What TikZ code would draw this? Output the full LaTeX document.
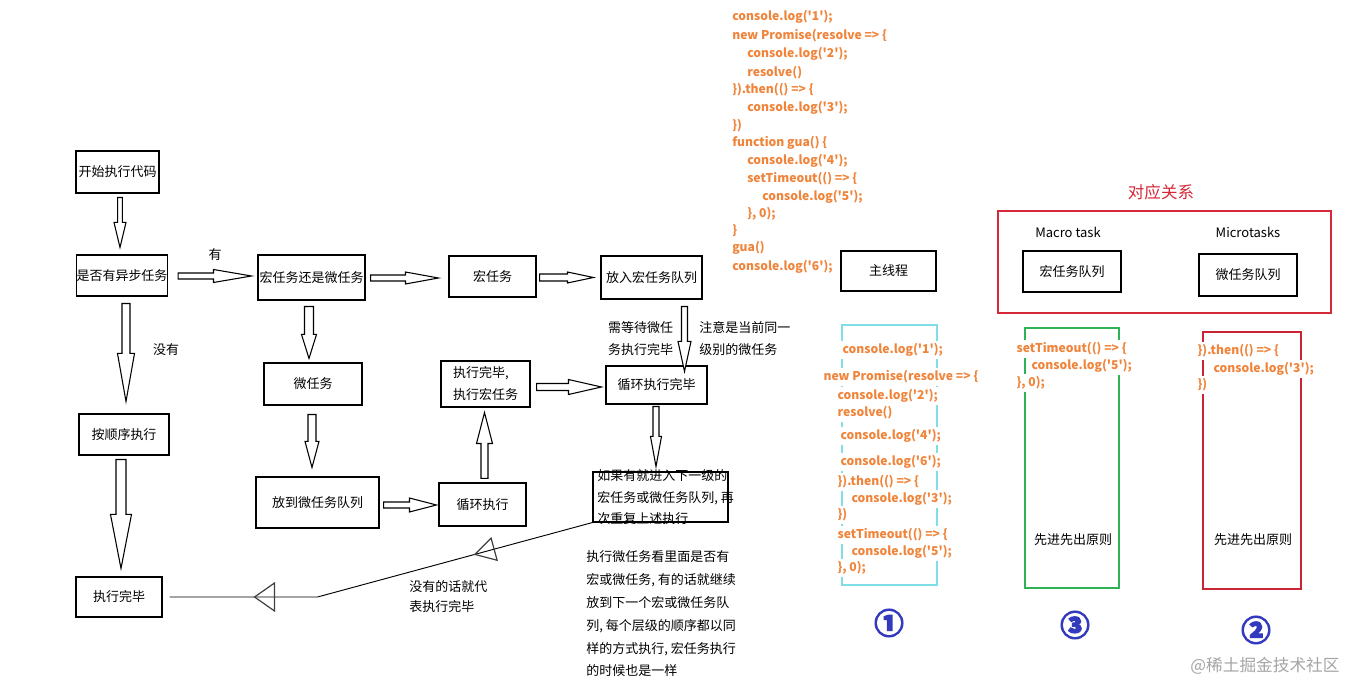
\documentclass[tikz,border=0pt]{standalone}
\usepackage{fontspec}
\newfontfamily\cjk{Noto Sans CJK SC}
\newfontfamily\cjknum[FakeBold=4, BoldFeatures={FakeBold=4}]{Noto Sans CJK SC}
\usetikzlibrary{calc}
\definecolor{codeor}{RGB}{240,132,58}
\definecolor{relred}{RGB}{214,40,56}
\definecolor{qgreen}{RGB}{46,178,84}
\definecolor{qcyan}{RGB}{128,222,230}
\definecolor{qred}{RGB}{200,36,52}
\definecolor{numblue}{RGB}{52,58,190}
\definecolor{wm}{RGB}{165,165,165}
\tikzset{
  bx/.style 2 args={draw, line width=0.8pt, minimum width=#1*0.75pt, minimum height=#2*0.75pt, inner sep=0pt, font=\cjk\fontsize{9.75}{12}\selectfont},
  lbl/.style={font=\cjk\fontsize{9.75}{12}\selectfont, inner sep=0pt},
  blk/.style={draw, line width=0.8pt, fill=white},
  code/.style={font=\cjk\bfseries\fontsize{9.1}{11}\selectfont, text=codeor, inner sep=0pt, anchor=west},
  ccode/.style={code, fill=white, inner xsep=1pt, inner ysep=2pt},
  tri/.style={draw=black!75, line width=0.9pt},
  cbox/.style={line width=0.8pt},
  num/.style={inner sep=0pt, text=numblue, font=\cjknum\bfseries\fontsize{22}{22}\selectfont},
}
\newcommand\blockarr[5]{%
  \coordinate (bh) at ($(#2)!#5*0.75pt!(#1)$);
  \draw[blk] ($(#1)!#3*0.75pt!90:(#2)$) -- ($(bh)!#3*0.75pt!90:(#2)$) -- ($(bh)!#4*0.75pt!90:(#2)$) -- (#2) -- ($(bh)!#4*0.75pt!-90:(#2)$) -- ($(bh)!#3*0.75pt!-90:(#2)$) -- ($(#1)!#3*0.75pt!-90:(#2)$) -- cycle;
}
\begin{document}
\begin{tikzpicture}[x=0.75pt,y=-0.75pt]
\useasboundingbox (0,0) rectangle (1365,698);
\fill[white] (0,0) rectangle (1365,698);

% ---------- flowchart ----------
\node[bx={83}{42}] (A) at (117.5,172) {开始执行代码};
\node[bx={86}{41}] (B) at (122,275.5) {是否有异步任务};
\node[bx={107}{45}] (C) at (311.5,277.5) {宏任务还是微任务};
\node[bx={87}{41}] (L) at (492.5,276.5) {宏任务};
\node[bx={101}{43}] (M) at (651.5,277.5) {放入宏任务队列};
\node[bx={90}{41}] (D) at (124,434.5) {按顺序执行};
\node[bx={86}{40}] (E) at (119,597) {执行完毕};
\node[bx={98}{42}] (G) at (313,384) {微任务};
\node[bx={123}{51}] (H) at (317.5,502.5) {放到微任务队列};
\node[bx={87}{43}] (I) at (482.5,504.5) {循环执行};
\node[bx={89}{46}, align=left, font=\cjk\fontsize{9.75}{16.5}\selectfont] (J) at (485.5,384) {执行完毕,\\执行宏任务};
\node[bx={101}{38}] (K) at (656.5,385) {循环执行完毕};
\node[bx={135}{50}] (F) at (660.5,497) {};
\node[lbl, anchor=west, align=left, font=\cjk\fontsize{9.75}{16.1}\selectfont] (Ft) at (597,497.5) {如果有就进入下一级的\\宏任务或微任务队列, 再\\次重复上述执行};

\node[lbl] (yes) at (215,255) {有};
\node[lbl] (no) at (166,350) {没有};
\node[lbl, align=left, font=\cjk\fontsize{9.75}{16.5}\selectfont] (wait) at (640.5,339) {需等待微任\\务执行完毕};
\node[lbl, anchor=west, align=left, font=\cjk\fontsize{9.75}{16.5}\selectfont] (note) at (699,339) {注意是当前同一\\级别的微任务};
\node[lbl, anchor=west, align=left, font=\cjk\fontsize{9.75}{15}\selectfont] (none) at (409,597) {没有的话就代\\表执行完毕};
\node[lbl, anchor=west, align=left, font=\cjk\fontsize{9.75}{17.1}\selectfont] (para) at (586,614) {执行微任务看里面是否有\\宏或微任务, 有的话就继续\\放到下一个宏或微任务队\\列, 每个层级的顺序都以同\\样的方式执行, 宏任务执行\\的时候也是一样};

% block arrows
\coordinate (s1) at ($(A.south)+(2.5,4)$);   \coordinate (e1) at ($(B.north)+(-2,-7)$);
\coordinate (s2) at ($(B.east)+(10,0.5)$);   \coordinate (e2) at ($(C.west)+(-6,-1.5)$);
\coordinate (s3) at ($(B.south)+(4,7)$);     \coordinate (e3) at ($(D.north)+(2,-12)$);
\coordinate (s4) at ($(D.south)+(-3,4)$);    \coordinate (e4) at ($(E.north)+(2,-8)$);
\coordinate (s5) at ($(C.south)+(-2.5,6)$);  \coordinate (e5) at ($(G.north)+(-4,-4)$);
\coordinate (s6) at ($(G.south)+(-1,9)$);    \coordinate (e6) at ($(H.north)+(-5.5,-9)$);
\coordinate (s7) at ($(H.east)+(4,2.5)$);    \coordinate (e7) at ($(I.west)+(-2,0.5)$);
\coordinate (s8) at ($(I.north)+(2,-4)$);    \coordinate (e8) at ($(J.south)+(-1,5)$);
\coordinate (s9) at ($(J.east)+(6,3)$);      \coordinate (e9) at ($(K.west)+(-4,2)$);
\coordinate (s10) at ($(K.south)+(-0.5,2)$); \coordinate (e10) at ($(F.north)+(-4.5,-5)$);
\coordinate (s11) at ($(C.east)+(5,0.5)$);   \coordinate (e11) at ($(L.west)+(-10,1.5)$);
\coordinate (s12) at ($(L.east)+(3,1)$);     \coordinate (e12) at ($(M.west)+(-7,0)$);
\coordinate (s13) at ($(M.south)+(33,7)$);   \coordinate (e13) at ($(K.north)+(28,6)$);
\blockarr{s1}{e1}{2.4}{6}{25}
\blockarr{s2}{e2}{3}{6.5}{38}
\blockarr{s3}{e3}{4}{8.5}{48}
\blockarr{s4}{e4}{5}{10.5}{54}
\blockarr{s5}{e5}{4.5}{7.5}{24}
\blockarr{s6}{e6}{4}{7}{26}
\blockarr{s7}{e7}{3}{7}{27}
\blockarr{s8}{e8}{3.5}{8}{31}
\blockarr{s9}{e9}{3.5}{7.5}{33}
\blockarr{s10}{e10}{3}{5.5}{30}
\blockarr{s11}{e11}{3}{6}{33}
\blockarr{s12}{e12}{3.5}{5.5}{26}
\blockarr{s13}{e13}{3}{6.5}{30}

% return line F -> E
\coordinate (bend) at ($(E.east)+(155,0)$);
\coordinate (eend) at ($(E.east)+(7,0)$);
\draw[line width=0.7pt] (F.south west) -- (bend) -- (eend);
\coordinate (tA) at ($(E.east)+(92,0)$);
\draw[tri] (tA) -- ++(20,-14) -- ++(0,28) -- cycle;
\coordinate (tB) at ($(bend)!0.572!(F.south west)$);
\coordinate (tBb) at ($(tB)!15pt!(F.south west)$);
\draw[tri] (tB) -- ($(tBb)!8.6pt!90:(F.south west)$) -- ($(tBb)!8.6pt!-90:(F.south west)$) -- cycle;

% ---------- code ----------
\node[code] (t1) at (732,17.3) {console.log('1');};
\node[code] (t2) at (732,35.7) {new Promise(resolve => \{};
\node[code] (t3) at (747,54) {console.log('2');};
\node[code] (t4) at (747,72.3) {resolve()};
\node[code] (t5) at (732,90) {\}).then(() => \{};
\node[code] (t6) at (747,108.3) {console.log('3');};
\node[code] (t7) at (732,125.5) {\})};
\node[code] (t8) at (732,143.3) {function gua() \{};
\node[code] (t9) at (747,161) {console.log('4');};
\node[code] (t10) at (747,179) {setTimeout(() => \{};
\node[code] (t11) at (762,196.5) {console.log('5');};
\node[code] (t12) at (747,213.5) {\}, 0);};
\node[code] (t13) at (732,231) {\}};
\node[code] (t14) at (732,248.3) {gua()};
\node[code] (t15) at (732,266.7) {console.log('6');};

\node[bx={95}{40}] (MT) at (888.5,271) {主线程};

% ---------- correspondence ----------
\draw[relred, cbox] (998,211) rectangle (1331,313);
\node[lbl, text=relred, font=\cjk\fontsize{12.4}{14}\selectfont] (rel) at (1161,192) {对应关系};
\node[lbl] (mac) at (1068,232) {Macro task};
\node[lbl] (mic) at (1248,232) {Microtasks};
\node[bx={98}{41}] (Q1) at (1072,271.5) {宏任务队列};
\node[bx={98}{42}] (Q2) at (1248,275) {微任务队列};

% ---------- columns ----------
\draw[qcyan, cbox] (842,325) rectangle (937,585);
\draw[qgreen, cbox] (1025,328) rectangle (1119,588);
\draw[qred, cbox] (1203,332) rectangle (1301,589);

\node[ccode] (u1) at (841,350) {console.log('1');};
\node[ccode] (u2) at (822,377) {new Promise(resolve => \{};
\node[ccode] (u3) at (836,396) {console.log('2');};
\node[ccode] (u4) at (836,413) {resolve()};
\node[ccode] (u5) at (839,436) {console.log('4');};
\node[ccode] (u6) at (839,462) {console.log('6');};
\node[ccode] (u7) at (836,482) {\}).then(() => \{};
\node[ccode] (u8) at (850,499) {console.log('3');};
\node[ccode] (u9) at (836,515) {\})};
\node[ccode] (u10) at (836,535) {setTimeout(() => \{};
\node[ccode] (u11) at (850,552) {console.log('5');};
\node[ccode] (u12) at (836,568) {\}, 0);};

\node[ccode] (v1) at (1015,349) {setTimeout(() => \{};
\node[ccode] (v2) at (1030,366) {console.log('5');};
\node[ccode] (v3) at (1015,383) {\}, 0);};

\node[ccode] (w1) at (1196,351) {\}).then(() => \{};
\node[ccode] (w2) at (1212,369) {console.log('3');};
\node[ccode] (w3) at (1196,385) {\})};

\node[lbl] (fifo1) at (1073,540) {先进先出原则};
\node[lbl] (fifo2) at (1253,540) {先进先出原则};

\node[num] (n1) at (889,623) {①};
\node[num] (n3) at (1075,625) {③};
\node[num] (n2) at (1256,630) {②};

\node[lbl, text=wm, font=\cjk\fontsize{12.5}{14}\selectfont] (wmk) at (1265,666) {@稀土掘金技术社区};
\end{tikzpicture}
\end{document}
